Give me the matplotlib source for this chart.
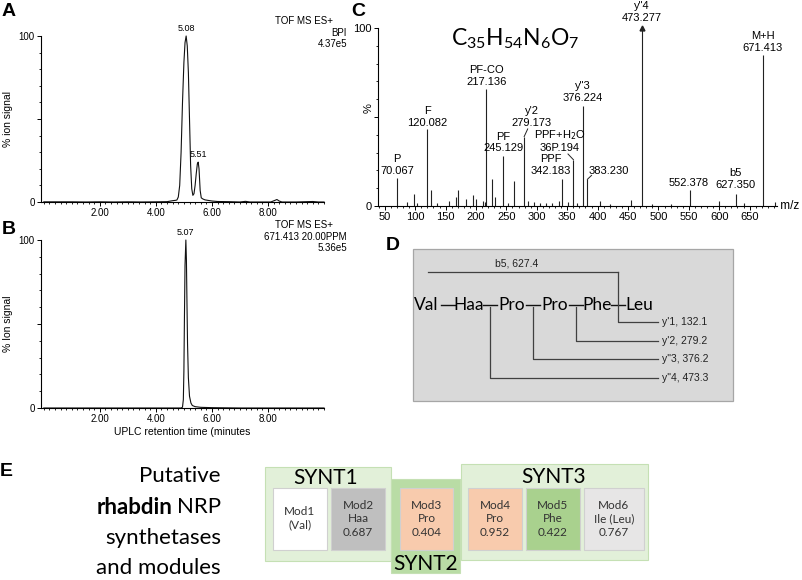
import matplotlib
matplotlib.use("Agg")
import matplotlib.pyplot as plt
from matplotlib.patches import Rectangle
from matplotlib.ticker import MultipleLocator, FixedLocator

W, H = 803, 580

# --- A: base peak chromatogram (BPI) ---
a_time = [0.0, 0.5, 1.0, 1.5, 2.0, 2.5, 3.0, 3.5, 4.0, 4.4, 4.5, 4.6, 4.7, 4.75,
          4.8, 4.85, 4.9, 4.95, 5.0, 5.04, 5.08, 5.12, 5.16, 5.2, 5.24, 5.28,
          5.32, 5.36, 5.4, 5.44, 5.48, 5.51, 5.54, 5.58, 5.62, 5.68, 5.75, 5.85,
          6.0, 6.2, 6.6, 7.0, 7.2, 7.35, 8.1, 8.25, 8.32, 8.4, 8.5, 9.0, 9.6,
          9.8, 10.0]
a_signal = [0.1, 0.1, 0.1, 0.0, 0.1, 0.0, 0.1, 0.0, 0.1, 0.2, 0.5, 0.8, 1.0, 1.2,
            3, 10, 30, 60, 84, 96, 100, 94, 78, 50, 22, 8,
            4, 5, 10, 17, 23, 24, 20, 7, 2.5, 1.8, 1.3, 1.0,
            0.6, 0.3, 0.2, 0.0, 0.4, 0.0, 0.0, 1.0, 1.5, 0.6, 0.0, 0.0, 0.3,
            0.0, 0.0]
a_peaks = [(5.08, 100, "5.08"), (5.51, 24, "5.51")]
a_header = ["TOF MS ES+", "BPI", "4.37e5"]

# --- B: extracted ion chromatogram 671.413 ---
b_time = [0.0, 2.0, 4.0, 4.9, 4.95, 4.98, 5.0, 5.02, 5.04, 5.07, 5.09, 5.11,
          5.13, 5.16, 5.2, 5.25, 5.3, 5.4, 5.6, 6.0, 7.0, 8.0, 9.0, 10.0]
b_signal = [0.0, 0.0, 0.0, 0.0, 0.5, 5, 22, 55, 85, 100, 88, 62,
            38, 18, 7, 3, 1.5, 0.8, 0.4, 0.2, 0.0, 0.0, 0.0, 0.0]
b_peaks = [(5.07, 100, "5.07")]
b_header = ["TOF MS ES+", "671.413 20.00PPM", "5.36e5"]

# --- C: MS/MS spectrum ---
c_mz = [70.067, 120.082, 217.136, 245.129, 279.173, 342.183, 360.194, 376.224,
        383.230, 473.277, 552.378, 627.350, 671.413,
        86, 98, 103, 126, 136, 156, 167, 170, 184, 195, 200, 211, 214, 227, 231,
        253, 262, 285, 295, 305, 315, 325, 337, 352, 366, 404, 420, 455, 490,
        520, 600, 641, 692]
c_int = [16, 43, 66, 28, 39, 15, 26, 56,
         15, 100, 9, 7, 85,
         2, 7, 1.5, 9, 1.5, 3, 5, 9, 4, 6, 4, 3, 2, 15, 5,
         1.5, 14, 3, 2, 1.5, 1.5, 1.5, 3, 2, 1.5, 3, 1, 3.5, 1,
         1, 3, 1.5, 2]
c_labels = ["P\n70.067", "F\n120.082", "PF-CO\n217.136", "PF\n245.129",
            "y'2\n279.173", "PPF\n342.183", "PPF+H$_2$O\n36P.194",
            'y"3\n376.224', "383.230", 'y"4\n473.277', "552.378",
            "b5\n627.350", "M+H\n671.413"]
c_formula = r"$\mathregular{C_{35}H_{54}N_{6}O_{7}}$"

# --- D: fragmentation scheme ---
residues = ["Val", "Haa", "Pro", "Pro", "Phe", "Leu"]
fragments = ["y'1, 132.1", "y'2, 279.2", 'y"3, 376.2', 'y"4, 473.3']
fragment_bond = [4, 3, 2, 1]
b_fragment = "b5, 627.4"

# --- E: NRP synthetase modules ---
synt_names = ["SYNT1", "SYNT2", "SYNT3"]
mod_names = ["Mod1", "Mod2", "Mod3", "Mod4", "Mod5", "Mod6"]
mod_residue = ["(Val)", "Haa", "Pro", "Pro", "Phe", "Ile (Leu)"]
mod_score = ["", "0.687", "0.404", "0.952", "0.422", "0.767"]
mod_colors = ["#ffffff", "#bfbfbf", "#f8cbad", "#f8cbad", "#a9d18e", "#e7e6e6"]


def rect(l, t, r, b):
    return [l / W, 1 - b / H, (r - l) / W, (b - t) / H]


plt.rcParams['font.family'] = ['Liberation Sans', 'DejaVu Sans']
fig = plt.figure(figsize=(W / 100, H / 100), dpi=100)

# overlay in pixel coordinates for panel letters, D and E (drawn on top)
ov = fig.add_axes([0, 0, 1, 1])
ov.set_xlim(0, W)
ov.set_ylim(H, 0)
ov.axis("off")
ov.set_zorder(10)


def style_axes(ax):
    ax.patch.set_alpha(0)
    for s in ("top", "right"):
        ax.spines[s].set_visible(False)
    for s in ("left", "bottom"):
        ax.spines[s].set_linewidth(0.8)
    ax.tick_params(which="major", direction="out", length=3, width=0.7,
                   labelsize=7, pad=1.5)
    ax.tick_params(which="minor", direction="out", length=1.6, width=0.6)


def chromatogram(pos, t, sig, peaks, ylabel, xlabel=None):
    ax = fig.add_axes(pos)
    ax.plot(t, sig, color="#111111", lw=0.8, clip_on=False)
    ax.set_xlim(-0.1, 10.0)
    ax.set_ylim(0, 100)
    style_axes(ax)
    ax.xaxis.set_major_locator(FixedLocator([2, 4, 6, 8]))
    ax.set_xticklabels(["2.00", "4.00", "6.00", "8.00"])
    ax.xaxis.set_minor_locator(MultipleLocator(0.2))
    ax.yaxis.set_major_locator(FixedLocator([0, 50, 100]))
    ax.set_yticklabels(["0", "", "100"])
    ax.yaxis.set_minor_locator(MultipleLocator(10))
    ax.set_ylabel(ylabel, fontsize=7.5, labelpad=4)
    if xlabel:
        ax.set_xlabel(xlabel, fontsize=7.5, labelpad=2)
    for x, y, lab in peaks:
        ax.annotate(lab, (x, y), xytext=(0, 2), textcoords="offset points",
                    ha="center", va="bottom", fontsize=6.5)
    return ax


axA = chromatogram(rect(41, 36, 324, 202), a_time, a_signal, a_peaks,
                   "% ion signal")
axB = chromatogram(rect(41, 240, 324, 408), b_time, b_signal, b_peaks,
                   "% Ion signal", "UPLC retention time (minutes")

for hdr, y0 in ((a_header, 21), (b_header, 225)):
    ov.text(333, y0, hdr[0], ha="right", va="center", fontsize=7)
    ov.text(347, y0 + 11.5, hdr[1], ha="right", va="center", fontsize=7)
    ov.text(347, y0 + 23, hdr[2], ha="right", va="center", fontsize=7)

# --- C ---
axC = fig.add_axes(rect(378, 28, 777, 206))
axC.vlines(c_mz, 0, c_int, color="#222222", lw=0.8)
axC.set_xlim(38.8, 695)
axC.set_ylim(0, 100)
style_axes(axC)
axC.tick_params(which="major", labelsize=8)
axC.xaxis.set_major_locator(MultipleLocator(50))
axC.xaxis.set_minor_locator(MultipleLocator(10))
axC.yaxis.set_major_locator(FixedLocator([0, 50, 100]))
axC.set_yticklabels(["0", "", "100"])
axC.yaxis.set_minor_locator(MultipleLocator(10))
ov.text(369, 108, "%", rotation=90, ha="center", va="center", fontsize=8)
axC.text(1.0, 0.0, " m/z", transform=axC.transAxes, ha="left", va="center",
         fontsize=8.5)
axC.plot([c_mz[9]], [c_int[9]], marker="^", ms=3.5, color="#222222",
         clip_on=False)

# label anchors (m/z, %) and leader lines
label_pos = [(70, 17), (120, 44), (217, 67), (245, 29.5), (292, 44),
             (323, 17), (338, 29.5), (376.2, 58), (419, 17), (473.3, 103),
             (549, 10), (627.4, 9), (671.4, 86)]
for lab, (x, y) in zip(c_labels, label_pos):
    axC.text(x, y, lab, ha="center", va="bottom", fontsize=8, linespacing=1.2,
             clip_on=False)
leaders = [((285, 43.3), (279.2, 39)), ((351.3, 29.2), (360.2, 26)),
           ((390, 17.2), (383.2, 15))]
for (x0, y0), (x1, y1) in leaders:
    axC.plot([x0, x1], [y0, y1], color="#222222", lw=0.7, clip_on=False)

ov.text(515, 39, c_formula, ha="center", va="center", fontsize=16.5,
        family=["Lato", "DejaVu Sans"])

# --- panel letters ---
for lab, x, y in (("A", 2, 12), ("B", 2, 230), ("C", 351, 11),
                  ("D", 386, 246), ("E", 0, 472)):
    ov.text(x, y, lab, ha="left", va="center", fontsize=14, weight="bold")

# --- D ---
ov.add_patch(Rectangle((413, 249), 320, 152, fc="#d9d9d9", ec="#a6a6a6",
                       lw=0.9))
seq_y = 305
res_x0, res_step = 426.5, 42.6
for i, r in enumerate(residues):
    ov.text(res_x0 + i * res_step, seq_y, r, ha="center", va="center",
            fontsize=12.5, family=["Lato", "DejaVu Sans"])
bond_x = [res_x0 + (i + 0.5) * res_step for i in range(len(residues) - 1)]
for bx in bond_x:
    ov.plot([bx - 7, bx + 7], [seq_y, seq_y], color="#111111", lw=1.0)

line_c = "#404040"
frag_y = [322, 341, 359, 378]
end_x = 658
for name, bond, fy in zip(fragments, fragment_bond, frag_y):
    bx = bond_x[bond]
    top = 272 if bond == 4 else seq_y + 2
    ov.plot([bx, bx, end_x], [top, fy, fy], color=line_c, lw=0.9)
    ov.text(end_x + 4, fy, name, ha="left", va="center", fontsize=7.5,
            color="#222222")
ov.plot([428, bond_x[4]], [272, 272], color=line_c, lw=0.9)
ov.text(517, 263, b_fragment, ha="center", va="center", fontsize=7.5,
        color="#222222")

# --- E ---
fam_c = ["Lato", "DejaVu Sans"]
ov.text(221, 476, "Putative", ha="right", va="center", fontsize=16, family=fam_c)
ov.text(221, 507, "NRP", ha="right", va="center", fontsize=16, family=fam_c)
ov.text(173, 507, "rhabdin", ha="right", va="center", fontsize=16,
        weight="bold", family=fam_c)
ov.text(221, 538, "synthetases", ha="right", va="center", fontsize=16,
        family=fam_c)
ov.text(221, 568, "and modules", ha="right", va="center", fontsize=16,
        family=fam_c)

synt_box = [(265, 467, 391, 561), (391, 479, 460, 573), (461, 464, 648, 560)]
synt_fill = ["#e2f0d9", "#b9dca5", "#e2f0d9"]
synt_text = [(326, 478), (426, 564), (554, 477)]
for name, (l, t, r, b), fc, (tx, ty) in zip(synt_names, synt_box, synt_fill,
                                            synt_text):
    ov.add_patch(Rectangle((l, t), r - l, b - t, fc=fc, ec="#c5e0b4", lw=0.8))
    ov.text(tx, ty, name, ha="center", va="center", fontsize=15, family=fam_c)

mod_box = [(273, 327), (331, 385), (400, 453), (468, 522), (526, 580),
           (584, 644)]
for name, res, sc, fc, (l, r) in zip(mod_names, mod_residue, mod_score,
                                     mod_colors, mod_box):
    ov.add_patch(Rectangle((l, 488), r - l, 62, fc=fc, ec="#d0d0d0", lw=0.8))
    lines = [name, res] + ([sc] if sc else [])
    ov.text((l + r) / 2, 519 if sc else 518, "\n".join(lines), ha="center",
            va="center", fontsize=8.5, linespacing=1.3, family=fam_c,
            color="#333333")

fig.savefig("out.png", dpi=100)
